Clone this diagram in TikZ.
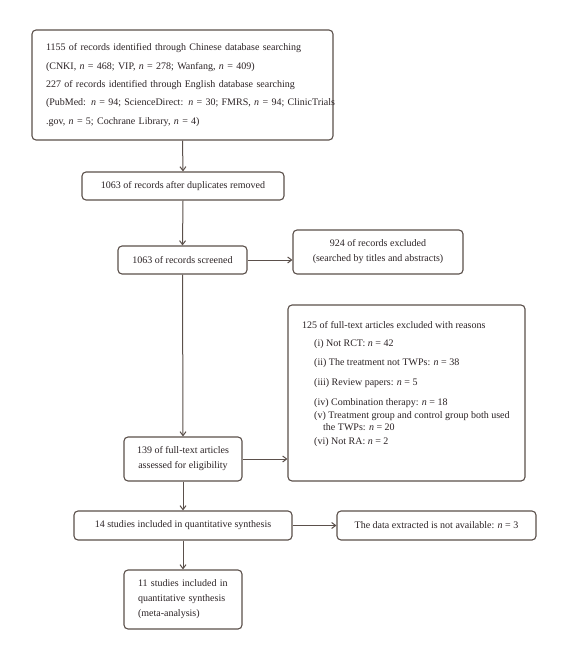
\documentclass[tikz,border=0pt]{standalone}
\usepackage{fontspec}
\setmainfont{Liberation Serif}
\usetikzlibrary{arrows.meta}
\definecolor{linec}{HTML}{5B504B}
\definecolor{textc}{HTML}{2B2325}
\newcommand\nv{\textit{n}}
\begin{document}
\begin{tikzpicture}[x=1pt,y=-1pt,
  box/.style={draw=linec,line width=1.1pt,rounded corners=4pt,inner sep=0pt,text=textc,
    font=\fontsize{10}{15}\selectfont,align=center},
  conn/.style={draw=linec,line width=1pt,-{Straight Barb[length=4pt,width=6pt]}}]
\useasboundingbox (0,0) rectangle (567,660);
\fill[white] (0,0) rectangle (567,660);
\node[box,minimum width=301pt,minimum height=110pt,text width=273pt,align=left,
  font=\fontsize{10}{18.3}\selectfont] (b1) at (182.5,85)
 {\mbox{1155 of records identified through Chinese database searching}\\
  \mbox{(CNKI, \nv{} = 468; VIP, \nv{} = 278; Wanfang, \nv{} = 409)}\\
  \mbox{227 of records identified through English database searching}\\
  \mbox{(PubMed: \nv{} = 94; ScienceDirect: \nv{} = 30; FMRS, \nv{} = 94; ClinicTrials}\\
  \mbox{.gov, \nv{} = 5; Cochrane Library, \nv{} = 4)}};
\node[box,minimum width=202pt,minimum height=28pt] (b2) at (183,186) {1063 of records after duplicates removed};
\node[box,minimum width=129pt,minimum height=28pt] (b3) at (182.5,260) {1063 of records screened};
\node[box,minimum width=170pt,minimum height=44pt] (b4) at (378,252) {924 of records excluded\\(searched by titles and abstracts)};
\node[box,minimum width=237pt,minimum height=176pt] (b5) at (406.5,393) {};
\node[anchor=north west,inner sep=0pt,text=textc,align=left,font=\fontsize{10}{13}\selectfont] (b5t) at (302,321)
 {125 of full-text articles excluded with reasons\\[5pt]
  \hspace*{12pt}(i) Not RCT: \nv{} = 42\\[6pt]
  \hspace*{12pt}(ii) The treatment not TWPs: \nv{} = 38\\[7pt]
  \hspace*{12pt}(iii) Review papers: \nv{} = 5\\[7pt]
  \hspace*{12pt}(iv) Combination therapy: \nv{} = 18\\
  \hspace*{12pt}(v) Treatment group and control group both used\\[-1pt]
  \hspace*{21pt}the TWPs: \nv{} = 20\\[1pt]
  \hspace*{12pt}(vi) Not RA: \nv{} = 2};
\node[box,minimum width=118pt,minimum height=44pt] (b6) at (183,459) {139 of full-text articles\\assessed for eligibility};
\node[box,minimum width=218pt,minimum height=29pt] (b7) at (183,525.5) {14 studies included in quantitative synthesis};
\node[box,minimum width=199pt,minimum height=29pt] (b8) at (436.5,525.5) {The data extracted is not available: \nv{} = 3};
\node[box,minimum width=118pt,minimum height=59pt,text width=90pt,align=left] (b9) at (183,599.5) {11 studies included in\\quantitative synthesis\\(meta-analysis)};
\draw[conn] (b1.south) -- (b2.north);
\draw[conn] (b2.south) -- (b3.north);
\draw[conn] (b3.east) -- (b3.east -| b4.west);
\draw[conn] (b3.south) -- (b6.north);
\draw[conn] (b6.east) -- (b6.east -| b5.west);
\draw[conn] (b6.south) -- (b7.north);
\draw[conn] (b7.east) -- (b8.west);
\draw[conn] (b7.south) -- (b9.north);
\end{tikzpicture}
\end{document}
